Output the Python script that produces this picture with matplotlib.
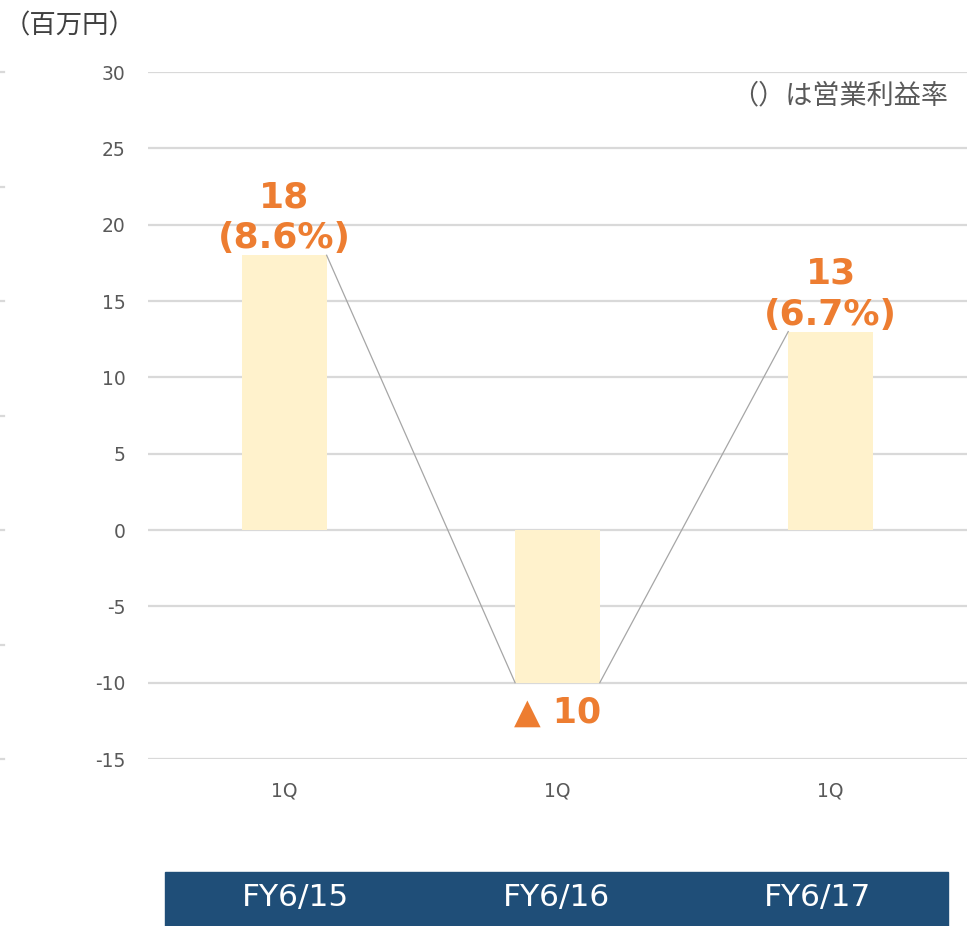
import matplotlib.pyplot as plt
from matplotlib.transforms import blended_transform_factory
from matplotlib.patches import Rectangle

plt.rcParams['font.family'] = ['DejaVu Sans', 'Noto Sans CJK JP']

quarters = ["1Q", "1Q", "1Q"]
years = ["FY6/15", "FY6/16", "FY6/17"]
profit = [18, -10, 13]
labels = ["18\n(8.6%)", "▲ 10", "13\n(6.7%)"]
yticks = [-15, -10, -5, 0, 5, 10, 15, 20, 25, 30]

fig = plt.figure(figsize=(9.72, 9.26), dpi=100)
ax = fig.add_axes([0.152, 0.1803, 0.843, 0.7419])

x = list(range(len(profit)))
w = 0.31
ax.bar(x, profit, width=w, color="#FFF2CC", zorder=2)

# connector lines between bars
ax.plot([x[0] + w / 2, x[1] - w / 2], [profit[0], profit[1]], color="#A6A6A6", lw=0.9, zorder=3)
ax.plot([x[1] + w / 2, x[2] - w / 2], [profit[1], profit[2]], color="#A6A6A6", lw=0.9, zorder=3)

orange = "#ED7D31"
for i, v in enumerate(profit):
    if v >= 0:
        ax.annotate(labels[i], (x[i], v), xytext=(0, 0), textcoords="offset points",
                    ha="center", va="bottom", fontsize=26, fontweight="bold",
                    color=orange, linespacing=1.25)
    else:
        ax.annotate(labels[i], (x[i], v), xytext=(0, -9), textcoords="offset points",
                    ha="center", va="top", fontsize=25, fontweight="bold", color=orange)

ax.set_xlim(-0.5, 2.5)
ax.set_ylim(-15, 30)
ax.set_yticks(yticks)
ax.set_yticklabels([str(t) for t in yticks])
ax.set_xticks(x)
ax.set_xticklabels(quarters)
ax.tick_params(axis="both", length=0, labelsize=13.5, colors="#595959")
ax.tick_params(axis="y", pad=16)
ax.tick_params(axis="x", pad=16)
ax.grid(axis="y", color="#D9D9D9", lw=1.6, zorder=0)
ax.set_axisbelow(True)
for s in ax.spines.values():
    s.set_visible(False)

# faint tick marks at the left edge
tr = blended_transform_factory(fig.transFigure, ax.transAxes)
for k in range(7):
    ax.plot([0, 0.004], [k / 6, k / 6], color="#D9D9D9", lw=1.6, transform=tr, clip_on=False)

jp = ['Noto Sans CJK JP', 'DejaVu Sans']
fig.text(0.004, 0.972, "（百万円）", fontsize=19, color="#404040", va="center", ha="left",
         family=jp)
ax.text(0.977, 0.965, "（）は営業利益率", transform=ax.transAxes, fontsize=19.5,
        color="#595959", ha="right", va="center", family=jp)

# fiscal year band
bx0, bx1 = 0.17, 0.975
band = Rectangle((bx0, 0.0), bx1 - bx0, 0.058, transform=fig.transFigure,
                 color="#1F4E78", zorder=1)
fig.patches.append(band)
for i, yr in enumerate(years):
    cx = bx0 + (bx1 - bx0) * (i + 0.5) / len(years)
    fig.text(cx, 0.031, yr, fontsize=22.5, color="white", ha="center", va="center")

fig.savefig("out.png", dpi=100)
